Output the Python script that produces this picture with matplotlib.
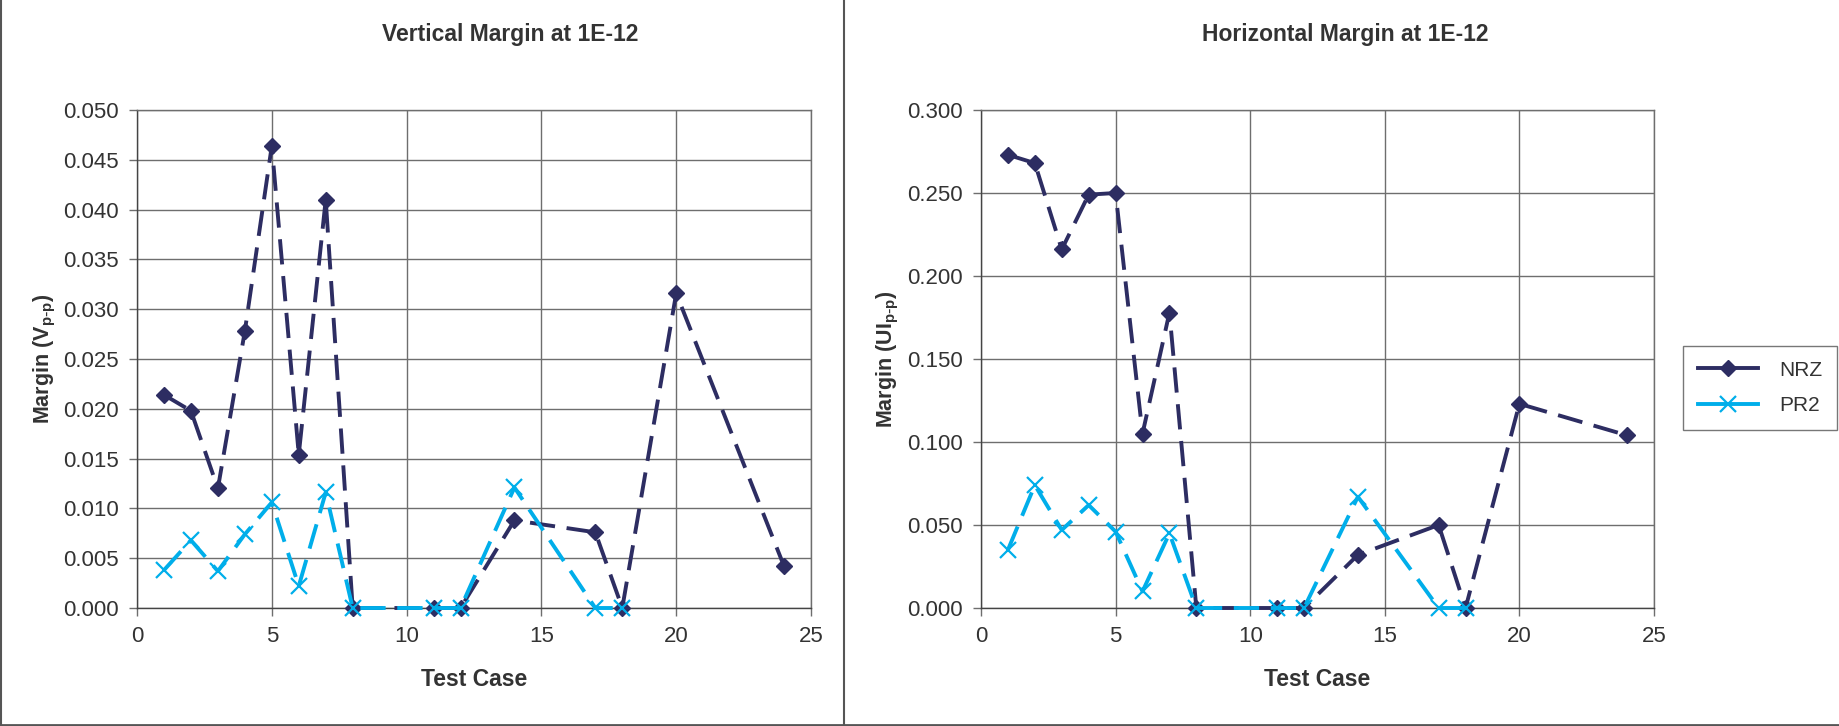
import matplotlib.pyplot as plt
from matplotlib.lines import Line2D

plt.rcParams['font.family'] = ['Liberation Sans', 'DejaVu Sans']

# test cases
nrz_x = [1, 2, 3, 4, 5, 6, 7, 8, 11, 12, 14, 17, 18, 20, 24]
pr2_x = [1, 2, 3, 4, 5, 6, 7, 8, 11, 12, 14, 17, 18]

# vertical margin (Vp-p)
v_nrz = [0.0214, 0.0198, 0.0120, 0.0278, 0.0464, 0.0154, 0.0410, 0.0,
         0.0, 0.0, 0.0088, 0.0076, 0.0, 0.0316, 0.0042]
v_pr2 = [0.0038, 0.0068, 0.0037, 0.0074, 0.0106, 0.0022, 0.0116, 0.0,
         0.0, 0.0, 0.0121, 0.0, 0.0]

# horizontal margin (UIp-p)
h_nrz = [0.273, 0.268, 0.216, 0.249, 0.250, 0.105, 0.178, 0.0,
         0.0, 0.0, 0.032, 0.050, 0.0, 0.123, 0.104]
h_pr2 = [0.035, 0.074, 0.047, 0.062, 0.046, 0.010, 0.045, 0.0,
         0.0, 0.0, 0.067, 0.0, 0.0]

navy = '#2d2d62'
cyan = '#00aeea'
grid_c = '#6e6e6e'
text_c = '#333333'

W, H = 1839, 726
fig = plt.figure(figsize=(W / 100, H / 100), dpi=100)

def px_axes(x0, y0, x1, y1):
    return fig.add_axes([x0 / W, 1 - y1 / H, (x1 - x0) / W, (y1 - y0) / H])

def style(ax, ymax, ystep, ylabel, title, tcx, ylx):
    ax.set_xlim(0, 25)
    ax.set_ylim(0, ymax)
    ax.set_xticks(range(0, 26, 5))
    n = int(round(ymax / ystep))
    ax.set_yticks([i * ystep for i in range(n + 1)])
    ax.set_yticklabels(['%.3f' % (i * ystep) for i in range(n + 1)])
    ax.grid(True, color=grid_c, linewidth=1)
    ax.set_axisbelow(True)
    for s in ax.spines.values():
        s.set_color(grid_c)
        s.set_linewidth(1)
    ax.spines['left'].set_color('#444444')
    ax.spines['bottom'].set_color('#444444')
    ax.tick_params(direction='out', length=6, width=1, color=grid_c,
                   labelsize=16, labelcolor=text_c, pad=7)
    ax.set_xlabel('Test Case', fontsize=16.5, fontweight='bold', color=text_c, va='center')
    ax.xaxis.set_label_coords(0.5, -(679 - 608) / 498)
    ax.set_ylabel(ylabel, fontsize=15.5, fontweight='bold', color=text_c, va='center')
    ax.yaxis.set_label_coords(ylx, 0.5)
    fig.text(tcx / W, 1 - 34 / H, title, ha='center', va='center',
             fontsize=16.5, fontweight='bold', color=text_c)

def draw(ax, y_nrz, y_pr2):
    ax.plot(nrz_x, y_nrz, color=navy, linewidth=2.8, dashes=(6.5, 3),
            marker='D', markersize=8.5, markeredgecolor=navy,
            markerfacecolor=navy, clip_on=False, zorder=3)
    ax.plot(pr2_x, y_pr2, color=cyan, linewidth=2.8, dashes=(6.5, 3),
            marker='x', markersize=12, markeredgewidth=1.6,
            markeredgecolor=cyan, clip_on=False, zorder=4)

ax1 = px_axes(137, 110, 811, 608)
draw(ax1, v_nrz, v_pr2)
style(ax1, 0.050, 0.005, 'Margin (V$_{\\mathregular{p\\text{-}p}}$)',
      'Vertical Margin at 1E-12', 510, (45 - 137) / 674)

ax2 = px_axes(981, 110, 1654, 608)
draw(ax2, h_nrz, h_pr2)
style(ax2, 0.300, 0.050, 'Margin (UI$_{\\mathregular{p\\text{-}p}}$)',
      'Horizontal Margin at 1E-12', 1345, (888 - 981) / 673)

handles = [Line2D([], [], color=navy, linewidth=2.8, marker='D', markersize=8.5),
           Line2D([], [], color=cyan, linewidth=2.8, marker='x', markersize=12,
                  markeredgewidth=1.6)]
leg = fig.legend(handles, ['NRZ', 'PR2'], loc='center',
                 bbox_to_anchor=(1760 / W, 1 - 388 / H), fontsize=15,
                 frameon=True, fancybox=False, handlelength=2.9,
                 labelspacing=0.8, borderpad=0.7, handletextpad=1.0)
leg.get_frame().set_edgecolor('#555555')
leg.get_frame().set_linewidth(1)
for t in leg.get_texts():
    t.set_color(text_c)

# outer frame lines
fig.add_artist(Line2D([1 / W, 1 / W], [0, 1], color='#555555', linewidth=1.5))
fig.add_artist(Line2D([844 / W, 844 / W], [0, 1], color='#555555', linewidth=1.5))
fig.add_artist(Line2D([0, 1], [1.5 / H, 1.5 / H], color='#555555', linewidth=2))

fig.savefig('out.png', dpi=100)
